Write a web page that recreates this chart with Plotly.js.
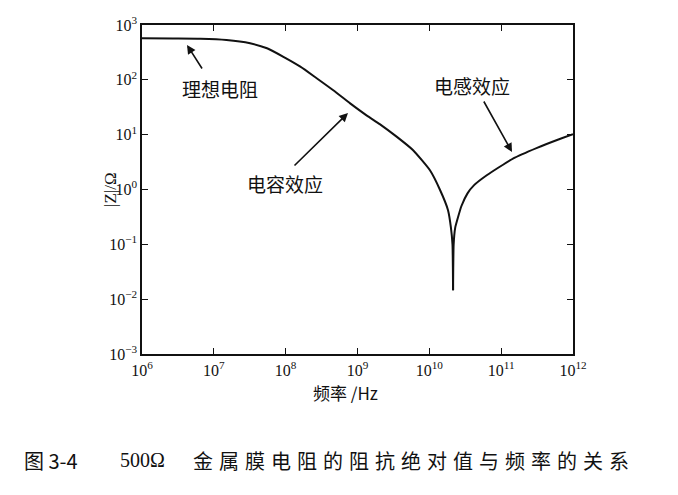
<!DOCTYPE html>
<html>
<head>
<meta charset="utf-8">
<script src="https://cdn.plot.ly/plotly-3.0.1.min.js"></script>
<style>
html,body{margin:0;padding:0;background:#fff;}
#chart{width:678px;height:495px;}
g.annotation[data-index="10"] text{letter-spacing:6px;}
</style>
</head>
<body>
<div id="chart"></div>
<script>
// Values
var freqLeft = [1e6, 2.7e6, 6.5e6, 1.5e7, 3.2e7, 5.5e7, 9.3e7, 1.6e8, 2.7e8, 4.6e8, 7.9e8, 1.35e9, 2.04e9, 3.5e9, 5.9e9, 1.02e10, 1.41e10, 1.82e10, 2.0e10, 2.1e10, 2.14e10];
var zLeft    = [571, 566, 560, 532, 464, 376, 263, 174, 107, 64.6, 37.2, 22.3, 15.6, 9.2, 5.25, 2.24, 0.98, 0.42, 0.2, 0.1, 0.0145];
var freqRight = [2.14e10, 2.18e10, 2.29e10, 2.45e10, 2.8e10, 3.4e10, 4.2e10, 6.3e10, 1.48e11, 3.16e11, 6.0e11, 1e12];
var zRight    = [0.0145, 0.1, 0.2, 0.28, 0.5, 0.85, 1.2, 1.82, 3.7, 5.75, 8.0, 10.2];
var xTickVals = [1e6, 1e7, 1e8, 1e9, 1e10, 1e11, 1e12];
var xTickText = ['10<sup>6</sup>', '10<sup>7</sup>', '10<sup>8</sup>', '10<sup>9</sup>', '10<sup>10</sup>', '10<sup>11</sup>', '10<sup>12</sup>'];
var yTickVals = [1e-3, 1e-2, 1e-1, 1, 10, 100, 1000];
var yTickText = ['10<sup>−3</sup>', '10<sup>−2</sup>', '10<sup>−1</sup>', '10<sup>0</sup>', '10<sup>1</sup>', '10<sup>2</sup>', '10<sup>3</sup>'];

var serif = 'Liberation Serif, Times New Roman, serif';
var cjk = 'Noto Sans CJK SC, sans-serif';

var lineStyle = {color: '#111', width: 2, shape: 'spline', smoothing: 0.5};
var traces = [
  {x: freqLeft, y: zLeft, mode: 'lines', line: lineStyle, hoverinfo: 'skip', showlegend: false},
  {x: freqRight, y: zRight, mode: 'lines', line: lineStyle, hoverinfo: 'skip', showlegend: false}
];

function px(x){ return (x - 142) / 431; }
function py(y){ return (354 - y) / 329; }

function arrow(tipX, tipY, tailX, tailY){
  return {xref:'paper', yref:'paper', x: px(tipX), y: py(tipY), ax: tailX - tipX, ay: tailY - tipY,
    axref:'pixel', ayref:'pixel', text:'', showarrow:true, arrowhead:2, arrowsize:1.1, arrowwidth:1.6, arrowcolor:'#111'};
}
function label(t, x, y, size, fam, opts){
  var a = {xref:'paper', yref:'paper', x: px(x), y: py(y), text: t, showarrow:false,
    font:{family: fam, size: size, color:'#111'}, xanchor:'center', yanchor:'middle'};
  if (opts) for (var k in opts) a[k] = opts[k];
  return a;
}

var axisCommon = {type:'log', ticks:'inside', ticklen:6, tickwidth:1.3, tickcolor:'#111', mirror:'ticks',
  showline:true, linewidth:1.6, linecolor:'#111', showgrid:false, zeroline:false,
  tickfont:{family: serif, size:16, color:'#111'}};

var layout = {
  width: 678, height: 495,
  margin: {l:142, r:105, t:25, b:141},
  paper_bgcolor: '#fff', plot_bgcolor: '#fff',
  xaxis: Object.assign({}, axisCommon, {range:[6,12], tickmode:'array', tickvals: xTickVals, ticktext: xTickText, ticklabelstandoff: 1}),
  yaxis: Object.assign({}, axisCommon, {range:[-3,3], tickmode:'array', tickvals: yTickVals, ticktext: yTickText}),
  annotations: [
    arrow(187, 45, 203, 70),
    arrow(348, 113, 293, 167),
    arrow(512, 152, 483, 100),
    label('理想电阻', 220, 88, 19, cjk),
    label('电容效应', 285, 183, 19, cjk),
    label('电感效应', 472, 85, 19, cjk),
    label('|Z|/Ω', 110, 190, 17, serif, {textangle:-90}),
    label('频率 /Hz', 345, 392, 17, cjk),
    label('图 3-4', 22, 460, 20, cjk, {xanchor:'left'}),
    label('500Ω', 118, 460, 20, serif, {xanchor:'left'}),
    label('金属膜电阻的阻抗绝对值与频率的关系', 414, 460, 20, cjk)
  ]
};

Plotly.newPlot('chart', traces, layout, {staticPlot:true, displayModeBar:false});
</script>
</body>
</html>
